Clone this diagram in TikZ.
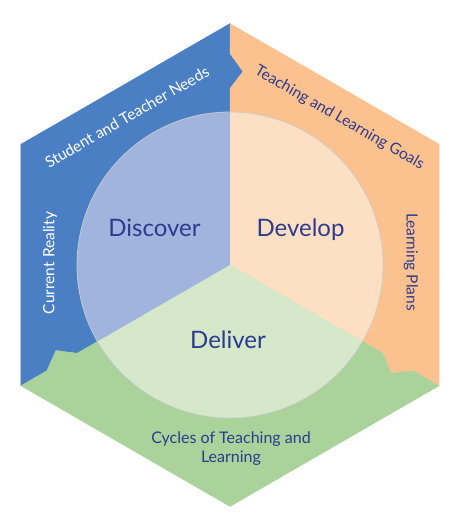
\documentclass[tikz,border=0pt]{standalone}
\usepackage{fontspec}
\setmainfont{Lato}
\usepackage{xcolor}
\usepackage{tikz}
\usetikzlibrary{positioning}

\definecolor{discoverblue}{HTML}{4A80C3}
\definecolor{developorange}{HTML}{FBC28F}
\definecolor{delivergreen}{HTML}{A9D39A}
\definecolor{discoverlight}{HTML}{A0B4DE}
\definecolor{developlight}{HTML}{FDDFC3}
\definecolor{deliverlight}{HTML}{D5E8CA}
\definecolor{labelnavy}{HTML}{2E3A8E}

\begin{document}
\begin{tikzpicture}[x=1pt, y=1pt,
    phase/.style={anchor=base, text=labelnavy, font=\fontsize{24}{28}\selectfont},
    edgelabel/.style={text=labelnavy, font=\fontsize{15.5}{19}\selectfont},
    edgelabelwhite/.style={edgelabel, text=white}]
        \useasboundingbox (-230,-265) rectangle (229,265);

        % --- Outer hexagon, three interlocking parts ---
        \foreach \ang/\col in {0/discoverblue, -120/developorange, 120/delivergreen} {
            \filldraw[fill=\col, draw=\col, line width=0.3pt, line join=round, rotate=\ang]
                (0,0) -- (90:176.5) -- (86.16:193.94) -- (90:211.5) -- (90:241.5)
                -- (150:241.5) -- (210:241.5) -- (210:211.5) -- (206.16:193.94)
                -- (210:176.5) -- cycle;
        }

        % --- Inner circle ---
        \fill[discoverlight] (0,0) -- (90:153) arc[start angle=90, end angle=210, radius=153] -- cycle;
        \fill[developlight] (0,0) -- (-30:153) arc[start angle=-30, end angle=90, radius=153] -- cycle;
        \fill[deliverlight] (0,0) -- (210:153) arc[start angle=210, end angle=330, radius=153] -- cycle;
        \draw[black!20, line width=0.7pt] (0,0) circle (153);

        % --- Phase names ---
        \node[phase] (discover) at (-75.5,28) {Discover};
        \node[phase] (develop) at (70.5,28) {Develop};
        \node[phase] (deliver) at (-2,-83) {Deliver};

        % --- Edge labels ---
        \node[edgelabelwhite, rotate=30] (needs) at (-103,148) {Student and Teacher Needs};
        \node[edgelabelwhite, rotate=90] (reality) at (-180,2) {Current Reality};
        \node[edgelabel, rotate=-30] (goals) at (109.5,147) {Teaching and Learning Goals};
        \node[edgelabel, rotate=-90] (plans) at (181,3) {Learning Plans};
        \node[edgelabel, align=center, font=\fontsize{16}{19}\selectfont] (cycles) at (1,-184) {Cycles of Teaching and \\ Learning};
    \end{tikzpicture}
\end{document}
